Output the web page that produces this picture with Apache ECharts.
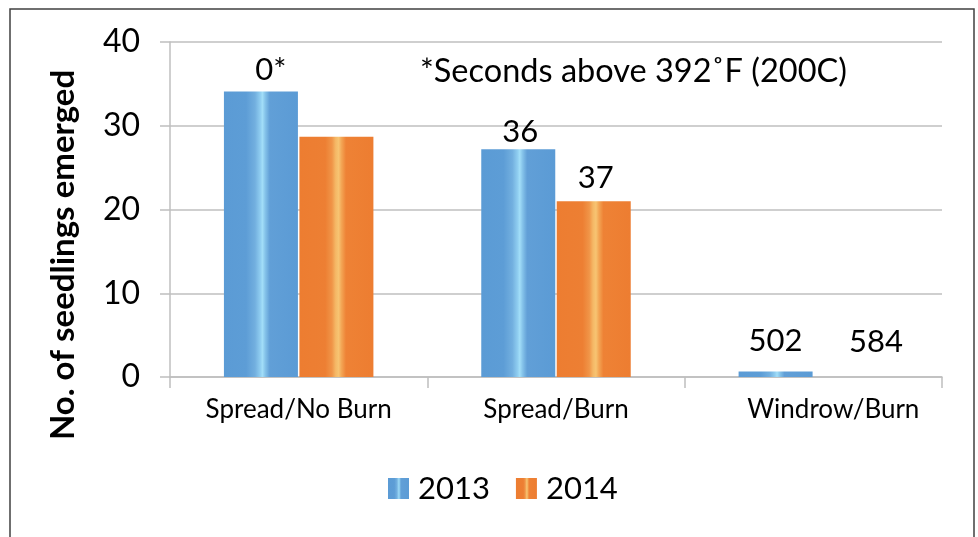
<!DOCTYPE html>
<html>
<head>
<meta charset="utf-8">
<script src="https://cdn.jsdelivr.net/npm/echarts@6/dist/echarts.min.js"></script>
<style>html,body{margin:0;padding:0;background:#fff}#c{width:978px;height:537px}</style>
</head>
<body>
<div id="c"></div>
<script>
const categories = ['Spread/No Burn', 'Spread/Burn', 'Windrow/Burn'];
const seriesNames = ['2013', '2014'];
const values2013 = [34.1, 27.2, 0.65];
const values2014 = [28.7, 21.0, 0];
const labels2013 = ['0*', '36', '502'];
const labels2014 = ['', '37', '584'];
const yTicks = [0, 10, 20, 30, 40];
const note = '*Seconds above 392\u02DAF (200C)';
const yTitle = 'No. of seedlings emerged';

const FONT = 'Lato, "Open Sans", sans-serif';
const labelDist2013 = [6, 2, 15];
const labelDist2014 = [8, 8, 20];
const labelOff2013 = [[10, 0], [2, 0], [0, 0]];
const labelOff2014 = [[0, 0], [2, 0], [25, 0]];

function grad(stops) {
  return new echarts.graphic.LinearGradient(0, 0, 1, 0, stops.map(s => ({offset: s[0], color: s[1]})));
}
const blueGrad = grad([[0,'#5B9BD5'],[0.3,'#5D9DD6'],[0.42,'#72AFDF'],[0.49,'#8FCDF0'],[0.52,'#A2DEF8'],[0.56,'#84C2E9'],[0.62,'#619FD7'],[1,'#5B9BD5']]);
const orangeGrad = grad([[0,'#ED7D31'],[0.35,'#ED7F33'],[0.44,'#F09548'],[0.49,'#F5B866'],[0.53,'#F7C472'],[0.57,'#F3A554'],[0.63,'#EE8235'],[1,'#ED7D31']]);

function mkData(vals, labs, dists, offs) {
  return vals.map((v, i) => ({
    value: v,
    label: {show: labs[i] !== '', formatter: labs[i], distance: dists[i], offset: offs[i]}
  }));
}

const chart = echarts.init(document.getElementById('c'), null, {renderer: 'canvas'});
chart.setOption({
  animation: false,
  textStyle: {fontFamily: FONT},
  grid: {left: 170, right: 36, top: 42, bottom: 160, containLabel: false},
  legend: {
    data: seriesNames,
    left: 383, top: 468,
    itemWidth: 21, itemHeight: 21, itemGap: 26,
    icon: 'rect',
    textStyle: {fontFamily: FONT, fontSize: 31, color: '#000', padding: [0, 0, 0, 4]}
  },
  xAxis: {
    type: 'category',
    data: categories,
    axisLine: {lineStyle: {color: '#BFBFBF', width: 1.5}},
    axisTick: {show: true, length: 11, lineStyle: {color: '#BFBFBF', width: 1.5}},
    axisLabel: {
      interval: 0,
      fontFamily: FONT, fontSize: 26, color: '#000', margin: 20,
      formatter: function (v) { return v === 'Windrow/Burn' ? '{w|' + v + '}' : v; },
      rich: {w: {fontFamily: FONT, fontSize: 26, color: '#000', padding: [0, 0, 0, 40]}}
    }
  },
  yAxis: {
    type: 'value',
    min: yTicks[0], max: yTicks[yTicks.length - 1], interval: 10,
    axisLine: {show: true, lineStyle: {color: '#BFBFBF', width: 1.5}},
    axisTick: {show: true, length: 10, lineStyle: {color: '#BFBFBF', width: 1.5}},
    splitLine: {lineStyle: {color: '#BFBFBF', width: 1.5}},
    axisLabel: {fontFamily: FONT, fontSize: 32, color: '#000', margin: 30}
  },
  series: [
    {
      name: seriesNames[0], type: 'bar', barWidth: 74, barGap: '2%',
      itemStyle: {color: blueGrad},
      label: {show: true, position: 'top', fontFamily: FONT, fontSize: 31, color: '#000'},
      data: mkData(values2013, labels2013, labelDist2013, labelOff2013)
    },
    {
      name: seriesNames[1], type: 'bar', barWidth: 74, barGap: '2%',
      itemStyle: {color: orangeGrad},
      label: {show: true, position: 'top', fontFamily: FONT, fontSize: 31, color: '#000'},
      data: mkData(values2014, labels2014, labelDist2014, labelOff2014)
    }
  ],
  graphic: [
    {type: 'rect', silent: true, z: -1, shape: {x: 10, y: 9, width: 964, height: 540},
     style: {fill: 'none', stroke: '#404040', lineWidth: 1.5}},
    {type: 'text', left: 420, top: 55,
     style: {text: note, fontFamily: FONT, fontSize: 32.5, fill: '#000'}},
    {type: 'text', x: 63, y: 255, rotation: Math.PI / 2,
     style: {text: yTitle, fontFamily: FONT, fontSize: 33, fontWeight: 'bold', fill: '#000', align: 'center', verticalAlign: 'middle'}}
  ]
});
</script>
</body>
</html>
